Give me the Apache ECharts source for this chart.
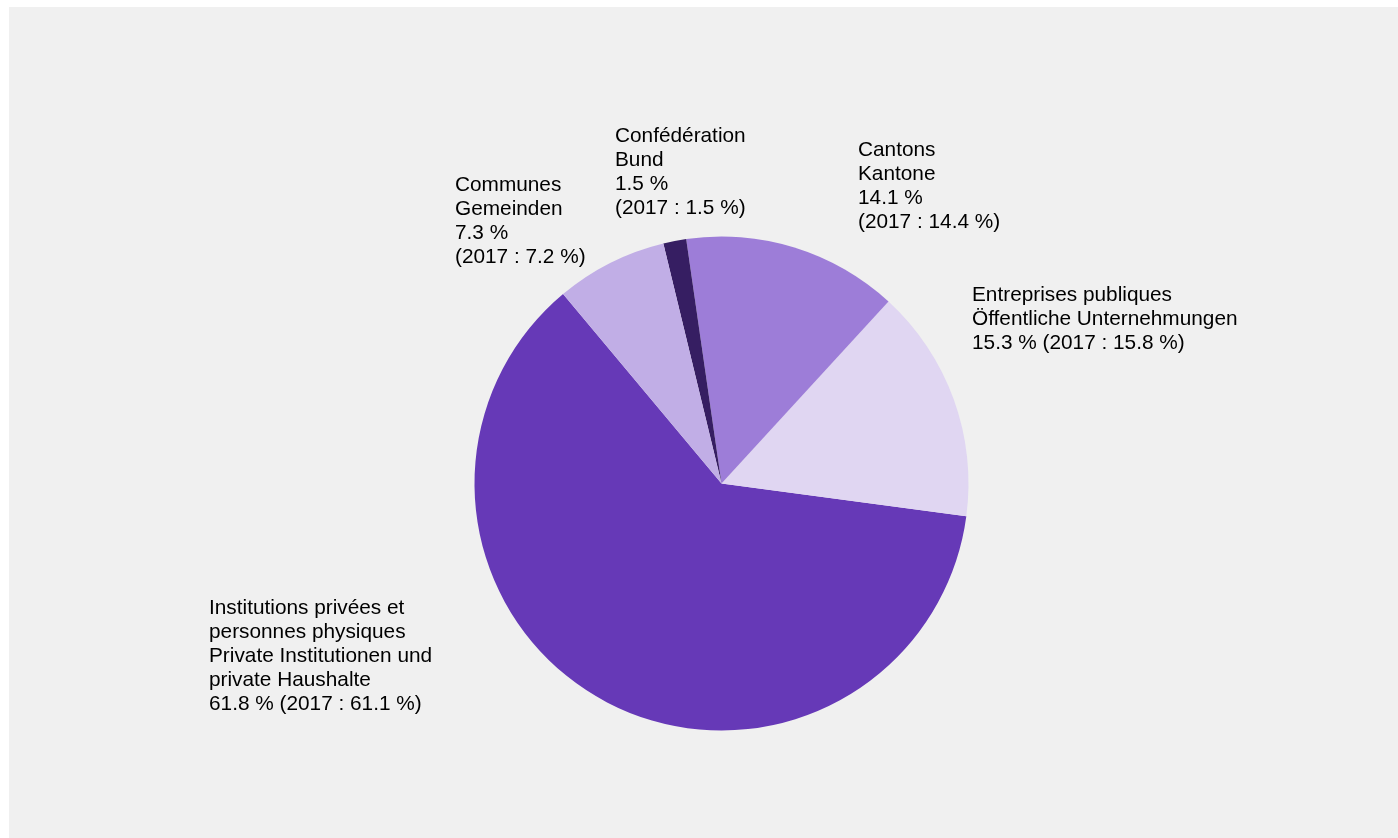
<!DOCTYPE html>
<html>
<head>
<meta charset="utf-8">
<script src="https://cdn.jsdelivr.net/npm/echarts@6/dist/echarts.min.js"></script>
<style>
html,body{margin:0;padding:0;background:#ffffff;}
#chart{position:absolute;left:9px;top:7px;width:1389px;height:831px;background:#f0f0f0;}
</style>
</head>
<body>
<div id="chart"></div>
<script>
// Data (counter-clockwise order starting at upper-left)
const names = [
  "Institutions privées et\npersonnes physiques\nPrivate Institutionen und\nprivate Haushalte",
  "Entreprises publiques\nÖffentliche Unternehmungen",
  "Cantons\nKantone",
  "Confédération\nBund",
  "Communes\nGemeinden"
];
const values2018 = [61.8, 15.3, 14.1, 1.5, 7.3];
const values2017 = [61.1, 15.8, 14.4, 1.5, 7.2];
const singleLinePct = [true, true, false, false, false];

const colors = ["#6639b7", "#e0d6f2", "#9d7dd8", "#361e62", "#c1aee6"];
// label anchor (left, top) in chart coordinates
const labelPos = [[200, 589], [963, 276], [849, 131], [606, 117], [446, 166]];

const chart = echarts.init(document.getElementById('chart'), null, {renderer: 'canvas'});
const fmt = v => v.toFixed(1) + ' %';
chart.setOption({
  backgroundColor: '#f0f0f0',
  animation: false,
  series: [{
    type: 'pie',
    center: [712.5, 476.5],
    radius: [0, 247],
    startAngle: 129.9,
    clockwise: false,
    avoidLabelOverlap: false,
    itemStyle: {borderWidth: 0},
    label: {
      show: true,
      position: 'outside',
      color: '#000',
      fontFamily: 'Liberation Sans, Arial, sans-serif',
      fontSize: 20.8,
      lineHeight: 24,
      align: 'left',
      formatter: p => {
        const i = p.dataIndex;
        const a = fmt(values2018[i]), b = '(2017 : ' + fmt(values2017[i]) + ')';
        return names[i] + '\n' + (singleLinePct[i] ? a + ' ' + b : a + '\n' + b);
      }
    },
    labelLine: {show: false},
    labelLayout: p => ({
      x: labelPos[p.dataIndex][0],
      y: labelPos[p.dataIndex][1],
      align: 'left',
      verticalAlign: 'top'
    }),
    data: values2018.map((v, i) => ({value: v, name: names[i], itemStyle: {color: colors[i]}}))
  }]
});
</script>
</body>
</html>
